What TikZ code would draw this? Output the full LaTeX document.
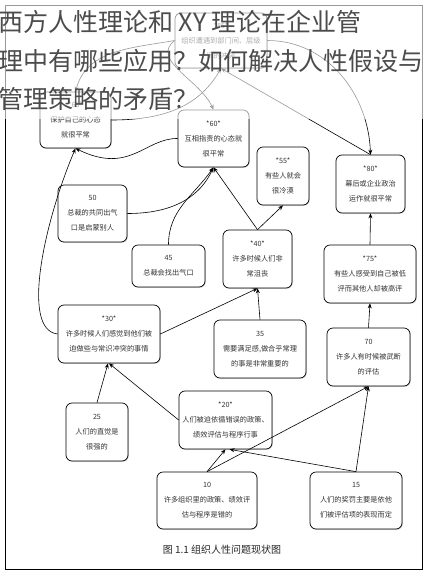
\documentclass[tikz,border=0pt]{standalone}
\usepackage{amsmath}
\usepackage{xcolor}
\usepackage{fontspec}
\newfontfamily\cjk{Noto Sans CJK SC}
\usepackage{tikz}
\usetikzlibrary{arrows.meta,shadows}

\begin{document}
\begin{tikzpicture}[x=1pt,y=1pt,>={Stealth[length=5pt,width=4pt]},
    card/.style={draw,rounded corners=6pt,line width=0.7pt,fill=white,align=center,
      font=\cjk\fontsize{7.2}{15}\selectfont,text=black!80,inner sep=1pt,
      drop shadow={shadow xshift=0.8pt,shadow yshift=-0.8pt,opacity=0.35}},
    link/.style={->,line width=0.6pt},
    headline/.style={anchor=base west,inner sep=0,font=\cjk\fontsize{25}{25}\selectfont,text=black!70}]
            \useasboundingbox (0,0) rectangle (427,-571);
            \fill [white] (0,0) rectangle (427,-571);
            \draw [line width=0.8pt] (5,-5) rectangle (422,-569);
            \node [card, minimum width=92pt, minimum height=55pt] (n85) at (221,-40.5) {*85*\\组织遭遇到部门间、层级\\间的冲突};
            \node [card, minimum width=71pt, minimum height=56pt] (n65) at (75.5,-120) {*65*\\保护自己的心态\\就很平常};
            \node [card, minimum width=71pt, minimum height=57pt] (n60) at (213.5,-138.5) {*60*\\互相指责的心态就\\很平常};
            \node [card, minimum width=52pt, minimum height=58pt] (n55) at (283,-176) {*55*\\有些人就会\\很冷漠};
            \node [card, minimum width=69pt, minimum height=58pt] (n80) at (370.5,-184) {*80*\\幕后或企业政治\\运作就很平常};
            \node [card, minimum width=69pt, minimum height=57pt] (n50) at (92.5,-213.5) {50\\总裁的共同出气\\口是启蒙别人};
            \node [card, minimum width=73pt, minimum height=42pt] (n45) at (168.5,-266) {45\\总裁会找出气口};
            \node [card, minimum width=69pt, minimum height=58pt] (n40) at (257.5,-259) {*40*\\许多时候人们非\\常沮丧};
            \node [card, minimum width=92pt, minimum height=58pt] (n75) at (370,-274) {*75*\\有些人感受到自己被低\\评而其他人却被高评};
            \node [card, minimum width=102pt, minimum height=58pt] (n30) at (109,-334) {*30*\\许多时候人们感觉到他们被\\迫做些与常识冲突的事情};
            \node [card, minimum width=92pt, minimum height=58pt] (n35) at (260,-349) {35\\需要满足感,做合乎常理\\的事是非常重要的};
            \node [card, minimum width=83pt, minimum height=58pt] (n70) at (368.5,-357) {70\\许多人有时候被武断\\的评估};
            \node [card, minimum width=62pt, minimum height=58pt] (n25) at (97,-432) {25\\人们的直觉是\\很强的};
            \node [card, minimum width=93pt, minimum height=58pt] (n20) at (225.5,-420) {*20*\\人们被迫依循错误的政策、\\绩效评估与程序行事};
            \node [card, minimum width=100pt, minimum height=57pt] (n10) at (207,-500.5) {10\\许多组织里的政策、绩效评\\估与程序是错的};
            \node [card, minimum width=92pt, minimum height=57pt] (n15) at (356,-500.5) {15\\人们的奖罚主要是依他\\们被评估项的表现而定};
            \node [font=\cjk\fontsize{10}{12}\selectfont, text=black!85] (cap) at (222,-550) {图 1.1\ 组织人性问题现状图};
            \draw [link] (n10.north) -- (n20.south);
            \draw [link] (n10.north) -- (n70.south);
            \draw [link] (n15.north) -- ([xshift=4pt]n20.south);
            \draw [link] (n15.north) -- (n70.south);
            \draw [link] (n20.west) -- (n30.south);
            \draw [link] (n25.north) -- ([xshift=-1pt]n30.south);
            \draw [link] (n30.east) -- (n40.south);
            \draw [link] (n35.north) -- (n40.south);
            \draw [link] (n70.north) -- (n75.south);
            \draw [link] (n75.north) -- (n80.south);
            \draw [link] (n40.north) -- (n60.south);
            \draw [link] (n40.north) -- (n55.south);
            \draw [link] (n50.east) to [out=0, in=-115] (n60.south);
            \draw [link] (n45.north) to [out=90, in=-125] (n60.south);
            \draw [link] (n30.west) .. controls (20,-330) and (45,-220) .. (n65.south);
            \draw [link] (n60.west) .. controls (145,-138) and (130,-175) .. (n65.south);
            \draw [link] (n85.west) to [out=190, in=75] (n65.north);
            \draw [link] (n65.east) to [out=0, in=-120] (n85.south);
            \draw [link] (n85.west) .. controls (150,-60) and (200,-80) .. (n60.north);
            \draw [link] (n80.north) -- (n85.south);
            \draw [link] (n85.east) to [out=0, in=92] (n80.north);
            \fill [white, opacity=0.6] (0,0) rectangle (427,-119);
            \node [headline] (t1) at (-2,-31) {西方人性理论和 XY 理论在企业管};
            \node [headline] (t2) at (-2,-70) {理中有哪些应用？如何解决人性假设与};
            \node [headline] (t3) at (-2,-108) {管理策略的矛盾？};
        \end{tikzpicture}
\end{document}
